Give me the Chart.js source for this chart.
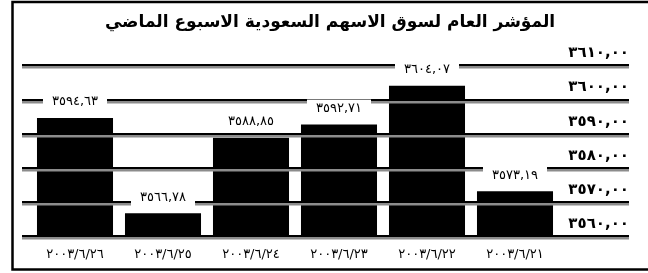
<!DOCTYPE html>
<html>
<head>
<meta charset="utf-8">
<script src="https://cdn.jsdelivr.net/npm/chart.js@4/dist/chart.umd.min.js"></script>
<style>
  html, body { margin: 0; padding: 0; background: #fff; }
  #wrap { width: 648px; height: 273px; }
</style>
</head>
<body>
<div id="wrap"><canvas id="myChart" width="648" height="273"></canvas></div>
<script>
// data (left to right, as in the printed chart)
var titleText = 'المؤشر العام لسوق الاسهم السعودية الاسبوع الماضي';
var dates = ['٢٠٠٣/٦/٢٦', '٢٠٠٣/٦/٢٥', '٢٠٠٣/٦/٢٤', '٢٠٠٣/٦/٢٣', '٢٠٠٣/٦/٢٢', '٢٠٠٣/٦/٢١'];
var indexValues = [3594.63, 3566.78, 3588.85, 3592.71, 3604.07, 3573.19];
var yTicks = [3560, 3570, 3580, 3590, 3600, 3610];

var FONT = "'DejaVu Sans', sans-serif";

// 3594.63 -> ٣٥٩٤,٦٣
function arabicNum(v) {
  var s = v.toFixed(2).replace('.', ',');
  return s.replace(/[0-9]/g, function (d) { return '٠١٢٣٤٥٦٧٨٩'[+d]; });
}

// outer frame
var framePlugin = {
  id: 'frame',
  beforeDraw: function (chart) {
    var ctx = chart.ctx;
    ctx.save();
    ctx.fillStyle = '#fff';
    ctx.fillRect(0, 0, chart.width, chart.height);
    ctx.strokeStyle = '#000';
    ctx.lineWidth = 2.5;
    ctx.strokeRect(12.5, 2, 700, 267.5);
    ctx.restore();
  }
};

// double rule lines (black over grey) drawn on top of the bars, then value boxes
var rulesPlugin = {
  id: 'rules',
  afterDatasetsDraw: function (chart) {
    var ctx = chart.ctx;
    var y = chart.scales.y;
    ctx.save();
    yTicks.forEach(function (v) {
      var py = Math.round(y.getPixelForValue(v));
      ctx.fillStyle = '#000';
      ctx.fillRect(22, py - 1, 607, 2);
      ctx.fillStyle = '#8c8c8c';
      ctx.fillRect(22, py + 1, 607, 2.5);
    });

    var meta = chart.getDatasetMeta(0);
    ctx.font = '13px ' + FONT;
    ctx.textAlign = 'center';
    ctx.textBaseline = 'middle';
    meta.data.forEach(function (bar, i) {
      var txt = arabicNum(indexValues[i]);
      var w = ctx.measureText(txt).width;
      var cy = bar.y - 16;
      ctx.fillStyle = '#fff';
      ctx.fillRect(bar.x - w / 2 - 9, cy - 9, w + 18, 18);
      ctx.fillStyle = '#000';
      ctx.fillText(txt, bar.x, cy);
    });
    ctx.restore();
  }
};

var ctx = document.getElementById('myChart').getContext('2d');
var myChart = new Chart(ctx, {
  type: 'bar',
  data: {
    labels: dates,
    datasets: [
      {
        label: 'index',
        data: indexValues,
        backgroundColor: '#000',
        borderWidth: 0,
        barPercentage: 0.864,
        categoryPercentage: 1,
      },
    ],
  },
  options: {
    responsive: false,
    animation: false,
    layout: {
      padding: { left: 31, right: 19, top: 0, bottom: 1 },
    },
    plugins: {
      legend: { display: false },
      tooltip: { enabled: false },
      title: {
        display: true,
        text: titleText,
        color: '#000',
        font: { family: FONT, size: 17, weight: 'bold' },
        padding: { top: 12, bottom: 33 },
      },
    },
    scales: {
      x: {
        grid: { display: false, drawTicks: false },
        border: { display: false },
        ticks: {
          color: '#000',
          padding: 10,
          maxRotation: 0,
          font: { family: FONT, size: 13 },
        },
      },
      y: {
        position: 'right',
        min: 3560,
        max: 3610,
        afterFit: function (scale) { scale.width = 70; },
        grid: { display: false, drawTicks: false },
        border: { display: false },
        ticks: {
          stepSize: 10,
          crossAlign: 'far',
          labelOffset: -12,
          color: '#000',
          font: { family: FONT, size: 15, weight: 'bold' },
          callback: function (v) { return arabicNum(v); },
        },
      },
    },
  },
  plugins: [framePlugin, rulesPlugin],
});
</script>
</body>
</html>
